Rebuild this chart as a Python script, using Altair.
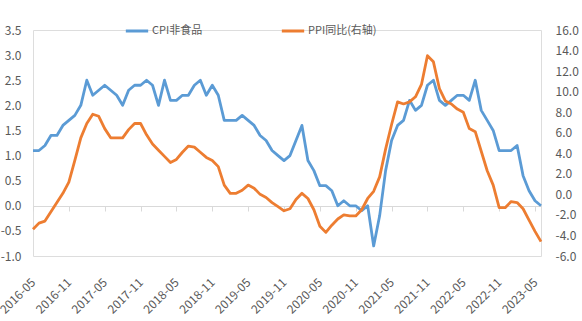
import altair as alt
import pandas as pd

# Monthly categories: 2016-04 .. 2023-05
months = [str(p) for p in pd.period_range("2016-04", "2023-05", freq="M")]

cpi_nonfood = [
    1.1, 1.1, 1.2, 1.4, 1.4, 1.6, 1.7, 1.8, 2.0,
    2.5, 2.2, 2.3, 2.4, 2.3, 2.2, 2.0, 2.3, 2.4, 2.4, 2.5, 2.4,
    2.0, 2.5, 2.1, 2.1, 2.2, 2.2, 2.4, 2.5, 2.2, 2.4, 2.2, 1.7,
    1.7, 1.7, 1.8, 1.7, 1.6, 1.4, 1.3, 1.1, 1.0, 0.9, 1.0, 1.3,
    1.6, 0.9, 0.7, 0.4, 0.4, 0.3, 0.0, 0.1, 0.0, 0.0, -0.1, 0.0,
    -0.8, -0.2, 0.7, 1.3, 1.6, 1.7, 2.1, 1.9, 2.0, 2.4, 2.5, 2.1,
    2.0, 2.1, 2.2, 2.2, 2.1, 2.5, 1.9, 1.7, 1.5, 1.1, 1.1, 1.1,
    1.2, 0.6, 0.3, 0.1, 0.0,
]

ppi_yoy = [
    -3.4, -2.8, -2.6, -1.7, -0.8, 0.1, 1.2, 3.3, 5.5,
    6.9, 7.8, 7.6, 6.4, 5.5, 5.5, 5.5, 6.3, 6.9, 6.9, 5.8, 4.9,
    4.3, 3.7, 3.1, 3.4, 4.1, 4.7, 4.6, 4.1, 3.6, 3.3, 2.7, 0.9,
    0.1, 0.1, 0.4, 0.9, 0.6, 0.0, -0.3, -0.8, -1.2, -1.6, -1.4, -0.5,
    0.1, -0.4, -1.5, -3.1, -3.7, -3.0, -2.4, -2.0, -2.1, -2.1, -1.5, -0.4,
    0.3, 1.7, 4.4, 6.8, 9.0, 8.8, 9.0, 9.5, 10.7, 13.5, 12.9, 10.3,
    9.1, 8.8, 8.3, 8.0, 6.4, 6.1, 4.2, 2.3, 0.9, -1.3, -1.3, -0.7,
    -0.8, -1.4, -2.5, -3.6, -4.6,
]

tick_labels = [
    "2016-05", "2016-11", "2017-05", "2017-11", "2018-05", "2018-11",
    "2019-05", "2019-11", "2020-05", "2020-11", "2021-05", "2021-11",
    "2022-05", "2022-11", "2023-05",
]
left_ticks = [-1.0, -0.5, 0.0, 0.5, 1.0, 1.5, 2.0, 2.5, 3.0, 3.5]
right_ticks = [-6, -4, -2, 0, 2, 4, 6, 8, 10, 12, 14, 16]
series_names = ["CPI非食品", "PPI同比(右轴)"]
series_colors = ["#5B9BD5", "#ED7D31"]

idx = list(range(len(months)))
df_cpi = pd.DataFrame({"month": months, "idx": idx, "cpi": cpi_nonfood,
                       "series": series_names[0]})
df_ppi = pd.DataFrame({"month": months, "idx": idx, "ppi": ppi_yoy,
                       "series": series_names[1]})

FONT = "Noto Sans CJK SC"
GREY = "#595959"
W, H = 508, 226

label_arr = "[" + ",".join("'%s'" % t for t in tick_labels) + "]"
x_enc = alt.X(
    "idx:Q",
    scale=alt.Scale(domain=[0, len(months) - 1], nice=False, zero=False),
    axis=alt.Axis(
        values=[6 * k for k in range(len(tick_labels))],
        labelExpr=label_arr + "[round(datum.value / 6)]",
        labelAngle=-45, labelAlign="right", labelBaseline="middle",
        labelPadding=69, offset=-50, labelOverlap=False, labelBound=False,
        domainColor="#D9D9D9", tickColor="#D9D9D9", tickSize=5,
        grid=False, title=None,
        labelFont=FONT, labelFontSize=12, labelColor=GREY,
    ),
)

num_expr = "replace(format(datum.value, '.1f'), '\u2212', '-')"

color_enc = alt.Color(
    "series:N",
    scale=alt.Scale(domain=series_names, range=series_colors),
    legend=alt.Legend(
        orient="none", legendX=91, legendY=-12, direction="horizontal",
        title=None, symbolType="stroke", symbolStrokeWidth=3, symbolSize=500,
        labelFont=FONT, labelFontSize=11, labelColor=GREY, labelOffset=2,
        columnPadding=72,
    ),
)

blue = alt.Chart(df_cpi).mark_line(strokeWidth=2.8, strokeJoin="round").encode(
    x=x_enc,
    y=alt.Y(
        "cpi:Q",
        scale=alt.Scale(domain=[-1, 3.5], nice=False, zero=False),
        axis=alt.Axis(
            orient="left", values=left_ticks, labelExpr=num_expr,
            domain=False, ticks=False, grid=False, title=None,
            labelPadding=12, labelFont=FONT, labelFontSize=12, labelColor=GREY,
        ),
    ),
    color=color_enc,
)

orange = alt.Chart(df_ppi).mark_line(strokeWidth=2.8, strokeJoin="round").encode(
    x=x_enc,
    y=alt.Y(
        "ppi:Q",
        scale=alt.Scale(domain=[-6, 16], nice=False, zero=False),
        axis=alt.Axis(
            orient="right", values=right_ticks, labelExpr=num_expr,
            domain=False, ticks=False, grid=False, title=None,
            labelPadding=14, labelFont=FONT, labelFontSize=12, labelColor=GREY,
        ),
    ),
    color=color_enc,
)

chart = alt.layer(blue, orange).resolve_scale(y="independent").properties(
    width=W, height=H,
    autosize=alt.AutoSizeParams(type="none"),
    padding={"left": 33, "top": 30, "right": 41, "bottom": 65},
).configure_view(stroke=None).configure(background="white")

chart.save("out.html", embed_options={"renderer": "svg", "actions": False})
